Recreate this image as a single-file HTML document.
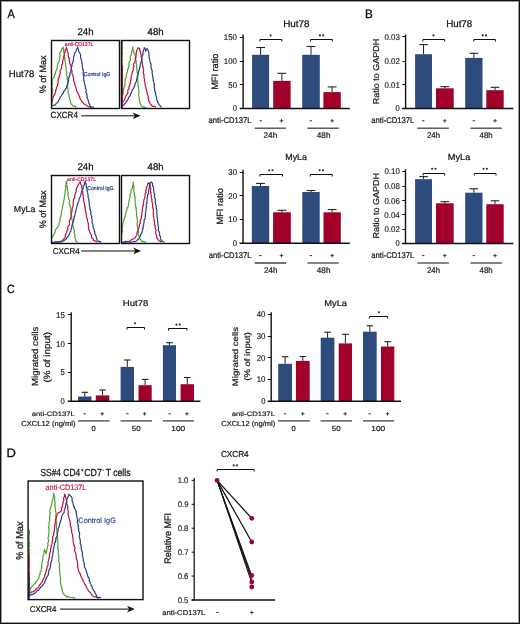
<!DOCTYPE html>
<html><head><meta charset="utf-8"><style>
html,body{margin:0;padding:0;background:#fff;}
svg{display:block;font-family:"Liberation Sans",sans-serif;will-change:transform;text-rendering:geometricPrecision;}
</style></head><body>
<svg width="520" height="624" viewBox="0 0 520 624">
<rect width="520" height="624" fill="#fff"/>
<rect x="0.5" y="0.5" width="519" height="623" fill="none" stroke="#111" stroke-width="1"/>
<rect x="1.5" y="1.5" width="517" height="621" fill="none" stroke="#999" stroke-width="1"/>
<text x="7.53" y="17.55" font-size="12.35" textLength="7.24" lengthAdjust="spacingAndGlyphs" fill="#111" stroke="#111" stroke-width="0.346">A</text>
<text x="364.89" y="17.55" font-size="12.06" textLength="7.77" lengthAdjust="spacingAndGlyphs" fill="#111" stroke="#111" stroke-width="0.338">B</text>
<text x="7.00" y="293.33" font-size="11.86" textLength="7.75" lengthAdjust="spacingAndGlyphs" fill="#111" stroke="#111" stroke-width="0.332">C</text>
<text x="6.48" y="456.85" font-size="12.21" textLength="9.39" lengthAdjust="spacingAndGlyphs" fill="#111" stroke="#111" stroke-width="0.342">D</text>
<path d="M52.20 104.48 L52.04 102.92 L52.34 101.60 L52.23 100.62 L51.80 99.50 L51.78 98.19 L51.81 96.63 L52.13 96.05 L51.86 94.26 L52.31 93.67 L52.27 91.92 L52.63 90.36 L52.52 89.33 L51.88 87.93 L52.03 87.31 L51.91 85.86 L52.33 84.42 L52.24 82.90 L51.80 81.78 L52.36 80.73 L52.20 79.55 L53.01 78.24 L54.16 76.78 L54.57 75.22 L55.34 74.19 L55.54 72.63 L55.66 71.54 L56.26 70.66 L56.79 68.97 L57.36 67.67 L57.20 67.09 L57.62 65.70 L57.77 64.31 L58.13 63.08 L59.00 61.55 L59.41 60.40 L59.69 58.95 L59.70 57.99 L59.77 56.66 L60.17 55.89 L60.02 54.42 L59.82 53.24 L60.39 51.85 L61.21 50.91 L61.77 49.08 L62.76 47.85 L63.16 47.00 L63.40 48.89 L63.85 50.47 L63.65 51.82 L64.01 52.89 L64.54 54.62 L64.28 56.25 L64.49 57.16 L64.86 59.11 L64.72 60.11 L65.24 61.55 L65.43 63.12 L65.83 64.34 L65.50 65.16 L65.72 66.82 L66.42 67.39 L65.87 68.69 L66.07 70.15 L66.55 71.18 L66.62 72.63 L66.31 73.94 L66.78 75.46 L67.44 76.95 L67.19 78.27 L67.31 79.55 L67.56 80.36 L67.85 82.23 L67.91 83.46 L67.56 84.31 L67.39 85.73 L67.44 86.43 L67.66 87.73 L68.01 89.25 L68.06 90.03 L67.95 91.31 L68.24 92.69 L68.37 94.33 L69.10 94.87 L68.97 96.23 L69.39 97.56 L69.61 98.60 L70.40 100.77 L70.40 101.70 L70.78 103.10 L71.44 104.12 L72.85 105.87 L73.87 106.12 L75.46 106.49 L76.32 107.25" fill="none" stroke="#52a030" stroke-width="1.2" stroke-linejoin="round"/>
<path d="M52.20 101.71 L52.09 100.73 L52.86 98.62 L53.19 97.13 L53.46 96.17 L54.18 95.22 L55.17 93.58 L55.54 92.02 L55.62 90.71 L55.83 89.89 L56.46 88.71 L56.57 87.02 L57.30 86.52 L57.64 85.17 L57.62 83.71 L58.16 82.71 L57.89 81.30 L58.27 79.65 L58.23 78.66 L58.70 77.82 L59.59 76.39 L59.83 75.66 L59.70 74.01 L60.40 72.70 L60.04 71.39 L60.31 70.18 L60.99 69.62 L61.49 68.06 L61.61 67.16 L61.77 65.70 L61.66 64.63 L62.66 63.53 L62.78 62.05 L62.52 61.11 L62.92 59.91 L63.76 58.34 L63.50 57.62 L63.85 56.01 L64.40 54.32 L64.21 52.92 L65.25 52.13 L65.24 50.47 L65.29 49.61 L66.41 48.30 L66.34 47.00 L66.69 48.78 L67.31 50.47 L67.26 51.41 L68.29 53.37 L68.17 55.01 L68.36 56.34 L68.70 57.39 L69.29 58.32 L69.07 59.58 L69.35 61.03 L69.67 62.07 L69.85 63.70 L70.35 64.48 L70.78 65.70 L71.11 67.28 L71.22 68.50 L71.56 69.37 L71.84 70.12 L72.02 71.48 L71.89 73.24 L72.30 74.16 L72.85 75.40 L73.32 76.66 L73.22 77.84 L73.68 79.29 L73.54 80.30 L73.93 81.25 L74.66 82.67 L74.73 84.11 L74.93 85.09 L75.70 86.23 L75.82 87.47 L76.13 88.83 L76.47 89.87 L76.89 91.42 L77.48 92.55 L77.70 93.40 L78.65 94.29 L78.86 96.02 L79.67 96.40 L79.58 97.78 L80.47 98.94 L80.92 99.82 L81.75 101.31 L83.22 102.62 L83.48 103.57 L84.63 104.48 L86.16 104.85 L87.74 106.29 L88.78 106.56 L89.91 107.31 L91.55 107.25" fill="none" stroke="#c0103c" stroke-width="1.2" stroke-linejoin="round"/>
<path d="M52.20 105.87 L53.22 105.39 L54.87 105.24 L55.54 104.48 L56.16 103.50 L57.40 102.49 L58.31 101.71 L58.59 100.44 L59.62 99.06 L60.02 98.33 L60.09 97.13 L61.08 96.17 L61.88 94.97 L62.07 94.18 L63.42 92.96 L63.85 91.32 L65.24 89.94 L65.57 88.69 L66.62 87.86 L66.50 86.93 L67.01 85.15 L67.44 84.67 L68.09 82.90 L67.79 82.30 L68.46 80.92 L68.70 79.55 L68.63 77.97 L69.46 77.11 L69.20 76.38 L70.01 75.07 L69.81 73.94 L70.09 72.75 L70.78 71.24 L71.03 69.91 L71.42 69.25 L71.46 67.35 L71.99 66.26 L71.91 65.00 L72.15 63.85 L72.85 62.93 L72.88 61.57 L73.48 60.37 L73.45 59.08 L73.51 57.75 L73.62 56.56 L74.25 55.85 L74.24 54.62 L74.48 53.39 L75.67 51.84 L76.08 50.92 L76.32 49.77 L77.00 48.69 L77.70 47.00 L77.95 48.22 L78.56 49.86 L78.60 50.94 L79.09 51.85 L79.96 53.36 L80.47 54.62 L80.66 55.87 L80.62 57.06 L80.92 58.99 L81.36 59.86 L81.86 61.55 L81.66 63.06 L82.54 64.12 L82.18 64.95 L82.36 66.36 L82.41 67.56 L82.68 69.23 L83.49 70.07 L83.24 71.24 L83.15 72.91 L83.35 73.60 L83.21 74.87 L83.77 76.23 L83.66 77.48 L83.63 78.51 L83.84 79.88 L83.94 80.78 L84.31 82.22 L84.63 83.71 L84.93 84.96 L85.31 86.31 L85.51 87.74 L85.45 88.47 L86.22 89.55 L86.21 91.22 L85.83 92.63 L86.83 93.67 L86.70 94.79 L87.21 96.25 L86.97 97.18 L87.60 98.65 L88.16 99.83 L88.26 101.08 L88.65 102.08 L88.78 103.10 L89.23 103.83 L89.84 105.28 L90.86 106.56 L92.23 107.21 L94.32 107.25" fill="none" stroke="#24408a" stroke-width="1.2" stroke-linejoin="round"/>
<rect x="51.5" y="40.5" width="68.00" height="68.00" fill="none" stroke="#111" stroke-width="1.4"/>
<path d="M122.20 40.77 L122.25 42.09 L122.31 43.35 L122.19 43.95 L122.47 45.83 L122.20 46.85 L122.34 47.63 L122.41 49.01 L121.82 50.23 L122.41 51.38 L122.42 53.29 L122.19 53.96 L122.18 55.44 L122.44 56.59 L122.33 57.31 L121.88 58.68 L122.42 59.93 L122.26 60.88 L121.80 62.32 L122.35 63.91 L122.36 64.76 L122.21 66.12 L122.17 67.02 L122.55 68.30 L122.63 70.17 L121.77 70.95 L122.49 72.62 L122.15 73.20 L121.94 75.02 L121.94 75.90 L121.88 77.05 L122.61 77.91 L122.49 79.46 L122.55 80.84 L121.96 82.23 L122.19 82.65 L121.75 84.28 L122.16 85.32 L121.88 86.56 L122.03 88.22 L121.75 89.35 L122.51 89.99 L122.58 91.73 L122.56 92.56 L122.08 93.86 L122.65 95.24 L122.07 96.31 L122.00 97.18 L121.84 99.09 L122.01 100.39 L121.97 101.00 L122.21 102.14 L122.09 104.04 L122.55 105.12 L122.32 106.42 L122.20 107.25 L122.60 106.08 L122.40 104.42 L122.41 103.57 L122.43 102.53 L122.01 100.79 L122.58 99.65 L122.17 98.63 L122.20 97.56 L122.27 96.39 L123.13 94.57 L123.10 93.22 L123.26 91.92 L123.46 90.63 L123.44 88.94 L123.75 88.23 L124.29 86.22 L124.94 85.54 L124.85 83.71 L125.00 82.19 L124.97 80.96 L125.30 79.78 L125.40 78.74 L125.90 78.12 L126.26 76.50 L126.23 75.40 L126.62 74.03 L127.05 72.48 L127.62 71.24 L127.50 69.66 L128.59 68.13 L128.45 67.20 L129.05 65.45 L129.00 64.32 L129.07 62.70 L129.47 61.50 L130.24 60.47 L130.45 58.35 L130.39 57.39 L130.31 56.19 L131.44 54.60 L131.51 52.79 L131.77 51.85 L131.92 51.02 L132.55 49.75 L132.93 47.99 L132.74 47.00 L132.61 47.94 L133.21 49.66 L133.80 50.94 L133.76 52.23 L133.85 53.24 L135.24 54.62 L135.54 56.05 L135.93 57.39 L135.63 59.03 L135.92 60.54 L136.41 61.37 L136.05 62.71 L136.63 64.49 L136.62 65.70 L136.37 66.57 L136.84 68.29 L136.82 69.23 L137.11 70.30 L136.95 71.96 L137.64 73.39 L137.67 74.49 L137.19 75.55 L137.94 77.22 L137.45 77.86 L137.73 79.55 L137.82 80.97 L137.83 81.85 L138.14 83.71 L137.84 84.17 L138.02 85.78 L138.42 86.83 L138.61 88.58 L138.44 89.36 L138.94 90.71 L138.90 91.90 L138.70 93.40 L138.62 94.85 L138.86 96.23 L139.21 96.76 L139.14 98.17 L139.71 99.87 L139.42 100.58 L139.65 102.31 L140.08 103.10 L140.45 103.85 L141.07 105.31 L142.16 106.56 L143.90 107.14 L145.14 107.47 L146.32 107.25" fill="none" stroke="#52a030" stroke-width="1.2" stroke-linejoin="round"/>
<path d="M122.20 65.70 L122.59 66.77 L121.92 68.54 L122.42 68.95 L122.35 70.48 L122.09 71.66 L121.90 72.59 L122.00 74.12 L122.61 75.14 L122.62 76.44 L122.07 78.21 L122.49 79.08 L121.79 80.34 L122.09 81.97 L121.92 82.69 L122.56 83.61 L122.12 85.54 L122.44 86.06 L121.78 87.30 L122.58 88.70 L122.42 90.50 L122.06 91.16 L122.61 92.69 L121.99 94.00 L122.03 94.83 L121.75 96.48 L122.57 97.60 L122.60 98.27 L121.96 99.90 L122.61 101.55 L122.10 102.14 L122.14 103.58 L122.59 104.52 L122.47 106.24 L122.20 107.25 L122.49 106.11 L122.30 104.33 L122.20 103.10 L123.02 101.59 L124.16 100.33 L124.96 98.84 L124.99 98.34 L125.59 96.61 L125.95 95.94 L126.93 94.79 L127.11 94.06 L127.96 92.92 L127.75 90.95 L127.95 90.17 L128.85 88.97 L129.00 87.86 L129.02 86.57 L129.63 85.59 L130.01 84.54 L130.19 82.67 L130.61 81.62 L130.62 80.48 L131.03 79.11 L131.08 78.17 L131.11 76.73 L131.29 76.09 L131.93 74.37 L132.03 73.76 L132.39 71.86 L132.92 71.03 L133.34 69.32 L133.16 68.47 L133.39 67.55 L133.98 66.42 L133.52 64.65 L133.85 63.34 L134.88 62.49 L135.10 61.08 L135.31 59.94 L135.24 58.78 L135.30 57.64 L136.19 55.65 L136.15 54.73 L136.09 53.12 L136.62 51.85 L136.76 50.20 L137.32 49.17 L138.01 47.70 L139.39 48.39 L139.87 49.33 L139.64 50.66 L140.59 51.74 L140.78 53.24 L140.80 54.16 L141.44 55.65 L140.98 56.44 L141.47 58.03 L141.89 58.80 L141.66 60.53 L142.16 61.55 L142.25 62.56 L142.33 64.38 L142.51 65.24 L142.72 66.32 L143.35 68.05 L143.08 68.54 L143.58 69.76 L143.55 71.24 L143.25 72.83 L143.78 73.99 L143.92 75.28 L144.13 75.86 L143.88 77.44 L144.60 79.00 L144.25 79.97 L144.66 81.09 L144.93 82.32 L144.84 83.36 L145.41 85.17 L145.27 86.01 L146.13 87.67 L145.81 88.14 L146.71 90.14 L146.53 90.54 L147.16 92.07 L147.01 93.40 L147.67 94.70 L147.89 95.47 L148.16 96.71 L148.11 98.46 L148.79 99.05 L148.54 100.43 L149.09 101.71 L149.79 102.65 L150.13 103.56 L151.37 105.19 L151.86 105.87 L152.83 106.38 L154.86 106.37 L156.01 107.25" fill="none" stroke="#c0103c" stroke-width="1.2" stroke-linejoin="round"/>
<path d="M122.20 106.56 L123.34 105.35 L123.96 104.87 L124.82 103.79 L125.54 103.10 L126.16 102.13 L126.86 101.16 L127.57 99.93 L128.31 98.94 L128.44 97.94 L129.41 96.49 L130.21 95.87 L130.49 94.22 L131.08 93.40 L131.61 91.94 L131.85 91.12 L132.37 90.03 L133.31 88.56 L133.85 87.86 L134.37 86.30 L134.85 85.74 L135.05 83.90 L135.44 83.00 L136.23 81.60 L136.55 81.18 L136.62 79.55 L137.14 78.60 L136.96 77.52 L137.54 76.27 L138.23 74.33 L138.42 73.78 L138.08 72.03 L139.01 70.63 L139.44 69.50 L139.39 68.47 L140.02 67.00 L140.09 66.54 L140.17 64.79 L140.78 63.69 L140.71 62.41 L141.47 61.55 L141.36 60.75 L142.03 59.53 L141.76 58.24 L141.91 56.82 L142.58 55.48 L142.99 54.47 L142.85 53.24 L143.27 52.19 L143.19 50.91 L144.01 48.99 L144.24 47.70 L144.97 48.64 L145.60 50.07 L145.62 51.16 L146.19 50.01 L147.01 48.39 L147.42 49.25 L148.15 50.29 L148.39 51.85 L148.88 52.82 L148.91 54.66 L149.06 55.56 L149.02 56.15 L148.96 57.47 L149.68 58.91 L149.78 60.16 L150.14 61.90 L150.14 62.69 L150.95 63.89 L151.16 65.70 L150.91 66.76 L151.20 67.95 L151.51 69.34 L152.04 70.18 L152.26 71.61 L152.02 73.22 L152.55 74.01 L152.49 74.91 L152.53 76.56 L153.40 77.90 L153.15 78.65 L152.97 80.20 L153.64 81.15 L153.89 82.44 L153.93 83.71 L154.53 85.16 L154.12 86.56 L154.15 87.47 L154.68 88.46 L154.57 90.19 L154.74 91.23 L155.78 92.11 L155.33 93.78 L155.81 95.05 L156.01 96.17 L156.69 97.07 L156.63 98.37 L156.79 100.08 L157.85 101.11 L157.55 102.42 L158.61 103.26 L158.78 104.48 L159.92 105.36 L160.38 105.97 L161.55 107.25" fill="none" stroke="#24408a" stroke-width="1.2" stroke-linejoin="round"/>
<rect x="121.5" y="40.5" width="68.00" height="68.00" fill="none" stroke="#111" stroke-width="1.4"/>
<path d="M52.20 238.10 L52.61 236.30 L53.36 235.55 L54.16 233.94 L54.79 232.87 L55.27 230.96 L55.54 229.79 L56.63 228.34 L57.62 227.02 L58.57 225.65 L59.00 224.25 L59.07 222.99 L59.98 221.22 L60.18 219.66 L59.90 218.47 L60.39 217.32 L60.88 216.34 L61.16 214.40 L61.56 213.01 L61.26 212.15 L61.77 210.40 L62.17 209.18 L62.48 208.06 L62.58 206.55 L63.06 205.18 L63.16 203.47 L63.45 202.29 L63.91 200.53 L63.94 199.43 L64.54 197.93 L64.39 196.92 L64.68 194.73 L65.24 193.78 L64.99 192.92 L65.32 190.96 L65.14 189.62 L65.85 188.91 L65.97 187.76 L65.51 186.38 L65.89 185.34 L66.41 184.16 L65.84 182.89 L66.34 181.31 L66.91 183.10 L66.38 183.82 L66.58 185.05 L67.43 187.13 L67.31 188.24 L67.61 189.74 L67.78 190.47 L67.47 191.51 L68.24 192.82 L68.02 194.23 L67.92 195.29 L68.33 196.91 L68.70 197.93 L68.78 198.96 L69.51 200.31 L69.61 201.60 L69.07 202.60 L69.63 204.11 L69.75 205.24 L70.08 206.24 L70.32 207.17 L70.80 208.25 L70.96 209.51 L70.43 210.72 L71.31 212.61 L70.82 213.36 L71.47 214.55 L71.63 216.03 L71.53 216.97 L71.85 218.49 L71.95 219.80 L72.14 220.35 L72.69 221.82 L72.33 223.16 L72.85 224.25 L72.67 225.69 L73.43 226.88 L73.56 227.68 L73.56 228.90 L74.19 229.81 L74.39 230.94 L74.24 232.56 L74.17 233.53 L75.00 234.93 L74.72 236.46 L74.79 237.27 L75.26 238.72 L75.65 239.81 L75.62 240.87 L76.53 241.40 L77.70 242.25" fill="none" stroke="#52a030" stroke-width="1.2" stroke-linejoin="round"/>
<path d="M52.20 242.25 L53.11 242.51 L54.79 242.36 L55.57 242.03 L57.33 242.10 L58.31 241.98 L59.36 241.57 L61.43 241.00 L62.47 240.87 L63.23 239.30 L64.54 238.10 L65.25 237.02 L65.27 235.02 L65.87 233.79 L66.62 232.56 L66.99 231.10 L67.16 229.97 L68.09 229.30 L67.65 228.36 L67.99 226.68 L68.70 225.63 L69.43 224.71 L69.50 223.20 L69.32 222.19 L69.53 220.62 L70.08 219.28 L70.39 218.77 L70.78 217.32 L71.15 216.13 L71.29 214.91 L71.05 213.85 L71.48 212.79 L72.13 211.32 L72.03 210.42 L72.16 209.01 L72.29 207.58 L72.76 206.98 L73.00 205.63 L73.27 204.42 L73.28 203.03 L73.18 202.00 L73.55 200.70 L73.53 199.24 L74.49 198.12 L74.70 196.32 L74.93 195.16 L75.21 193.74 L75.73 192.31 L76.13 191.39 L76.32 189.62 L76.49 188.37 L77.49 186.75 L77.70 185.47 L78.38 184.85 L79.09 183.39 L80.47 182.00 L80.40 183.25 L80.86 184.68 L81.91 185.66 L81.86 186.85 L81.69 188.10 L82.29 189.42 L82.46 190.54 L82.94 191.62 L82.76 193.19 L82.78 194.14 L83.24 195.16 L83.32 196.61 L83.25 198.02 L83.63 198.40 L83.73 199.92 L83.67 201.15 L84.21 202.61 L84.32 203.43 L84.63 204.86 L84.58 206.26 L85.42 207.25 L84.97 208.69 L85.32 209.35 L85.28 211.04 L86.09 212.10 L86.01 213.17 L86.26 214.61 L86.32 216.35 L86.71 217.45 L87.41 218.99 L87.40 220.09 L87.57 221.09 L87.84 222.13 L88.29 223.52 L88.50 224.63 L88.27 225.81 L88.52 226.93 L88.78 228.40 L88.73 229.79 L89.38 230.55 L89.79 231.94 L90.30 233.27 L90.90 234.21 L91.54 235.84 L91.55 236.71 L91.85 238.05 L93.30 239.05 L93.31 240.13 L94.32 240.87 L95.83 241.12 L97.09 242.25" fill="none" stroke="#c0103c" stroke-width="1.2" stroke-linejoin="round"/>
<path d="M52.20 242.25 L53.03 242.62 L54.88 241.95 L55.65 241.81 L57.03 242.34 L58.40 241.74 L60.18 242.28 L61.08 241.98 L61.82 241.70 L63.26 240.98 L64.35 240.46 L65.24 239.48 L66.42 238.86 L66.81 237.81 L68.01 236.71 L68.59 235.82 L69.06 234.84 L69.72 233.18 L69.98 231.96 L70.78 231.17 L71.07 229.59 L71.34 228.48 L71.66 227.61 L72.00 226.75 L71.82 225.54 L72.53 224.10 L72.85 222.86 L73.30 221.98 L73.33 220.41 L74.16 218.92 L74.16 218.24 L73.91 217.02 L74.80 216.13 L74.93 214.55 L75.07 213.80 L75.53 212.16 L76.18 210.57 L76.31 209.92 L76.27 208.94 L76.59 207.41 L77.01 206.24 L77.38 205.33 L77.44 203.87 L77.98 202.83 L78.69 201.44 L79.03 200.38 L79.09 199.32 L79.61 197.73 L80.13 196.97 L80.78 195.42 L81.16 193.78 L81.47 192.23 L81.91 191.08 L82.55 189.62 L83.13 188.49 L83.06 187.05 L83.93 185.47 L84.74 184.12 L84.45 182.52 L85.32 181.31 L85.12 182.42 L86.18 184.18 L86.19 185.73 L86.29 186.85 L86.93 188.34 L86.95 189.73 L87.30 191.09 L87.40 192.39 L87.76 193.32 L87.94 194.73 L88.23 195.59 L87.90 196.72 L88.63 198.70 L88.72 199.40 L88.78 200.70 L89.27 202.15 L89.23 202.86 L89.20 204.19 L89.41 205.39 L89.90 207.03 L89.57 207.88 L90.17 209.01 L89.95 209.86 L90.84 211.45 L91.14 212.52 L90.52 213.66 L91.24 215.34 L91.79 216.11 L91.55 217.32 L91.75 218.35 L92.24 219.83 L92.07 221.04 L92.21 223.03 L92.94 224.25 L92.87 226.05 L93.12 227.35 L93.43 227.97 L94.24 229.55 L94.32 231.17 L94.88 232.04 L94.61 233.73 L95.55 234.95 L95.91 235.41 L96.17 237.13 L96.40 238.10 L97.06 239.64 L97.56 240.82 L98.48 241.56 L100.06 241.47 L101.25 242.25" fill="none" stroke="#24408a" stroke-width="1.2" stroke-linejoin="round"/>
<rect x="51.5" y="175.5" width="68.00" height="68.00" fill="none" stroke="#111" stroke-width="1.4"/>
<path d="M122.20 233.94 L121.83 232.87 L122.63 231.14 L122.24 230.51 L122.18 229.42 L122.54 227.49 L122.51 226.74 L122.64 225.62 L122.77 224.25 L122.80 223.13 L123.34 221.61 L123.93 220.02 L124.16 218.71 L124.51 217.58 L125.48 216.19 L125.54 214.55 L125.95 212.98 L125.84 212.21 L126.76 210.69 L126.93 209.01 L127.24 207.72 L128.28 206.54 L128.31 204.86 L128.68 203.30 L128.80 202.44 L129.03 200.87 L129.51 199.67 L129.70 197.93 L130.25 196.35 L129.80 194.95 L130.46 193.85 L131.09 192.74 L131.08 191.01 L131.13 189.92 L132.28 188.57 L132.47 186.85 L132.70 185.43 L133.13 184.70 L133.15 183.59 L133.16 182.00 L133.14 182.90 L133.44 184.81 L133.23 186.04 L134.01 186.84 L133.83 188.51 L133.85 189.62 L133.97 190.59 L133.94 192.31 L134.57 193.28 L134.09 194.82 L134.86 195.54 L134.85 197.36 L135.27 198.26 L135.06 199.55 L135.24 200.70 L135.08 201.68 L135.20 203.40 L135.49 204.54 L135.65 205.75 L135.55 206.59 L136.44 208.14 L135.76 209.63 L136.50 210.46 L136.46 211.89 L136.51 212.86 L136.62 214.55 L136.30 216.25 L137.15 217.06 L136.98 218.11 L137.27 219.52 L137.53 221.09 L137.51 222.52 L137.10 222.95 L137.16 224.34 L137.15 225.48 L137.68 227.48 L137.73 228.40 L137.90 230.02 L138.51 230.43 L138.44 231.95 L138.22 233.66 L138.55 234.52 L139.10 236.08 L139.34 236.79 L139.39 238.10 L140.27 238.94 L141.66 240.85 L142.16 241.56 L143.30 241.38 L144.71 241.89 L146.32 242.25" fill="none" stroke="#52a030" stroke-width="1.2" stroke-linejoin="round"/>
<path d="M122.20 242.25 L124.14 242.39 L125.65 241.38 L126.93 241.56 L128.57 241.29 L129.83 241.07 L131.08 240.17 L132.07 239.16 L133.85 238.79 L135.00 238.03 L135.86 236.30 L136.62 235.33 L137.05 234.40 L136.96 232.86 L137.44 231.53 L137.99 230.41 L138.12 229.23 L138.70 228.40 L139.15 226.78 L139.49 225.75 L139.17 225.23 L139.63 224.04 L140.51 222.82 L140.15 221.23 L140.78 220.09 L140.61 219.29 L141.48 217.83 L141.33 216.39 L141.86 215.32 L141.88 213.83 L141.71 212.57 L142.16 211.78 L142.55 210.64 L142.24 209.74 L142.54 208.14 L142.64 206.83 L143.46 205.70 L143.05 204.65 L143.55 203.47 L143.66 202.45 L143.75 201.13 L143.98 199.67 L144.81 197.67 L144.93 196.55 L145.11 195.17 L145.11 193.90 L145.40 193.43 L146.17 192.18 L145.56 190.42 L146.47 189.02 L146.32 188.24 L146.87 186.84 L147.44 185.38 L147.63 184.46 L147.70 183.39 L149.09 182.70 L149.13 183.40 L150.12 185.03 L150.19 186.16 L150.05 187.39 L150.84 188.48 L150.67 189.69 L150.46 191.55 L151.08 192.32 L150.65 193.50 L151.16 195.16 L151.42 196.39 L151.27 197.36 L151.73 199.04 L152.06 200.16 L151.66 200.93 L152.30 202.46 L152.44 203.38 L152.67 204.86 L152.55 206.24 L153.01 207.80 L152.85 208.27 L153.38 209.91 L153.50 210.96 L153.04 212.70 L153.35 213.33 L153.51 214.94 L153.33 216.11 L153.93 217.32 L154.04 218.57 L153.90 219.98 L154.68 221.34 L154.39 222.44 L154.60 223.70 L154.46 225.04 L155.42 225.93 L155.18 227.20 L155.32 228.40 L155.55 229.16 L156.13 230.53 L155.63 231.61 L155.89 233.44 L155.88 233.97 L156.68 235.25 L156.70 236.71 L156.96 238.19 L158.16 239.50 L158.78 240.87 L160.35 241.20 L161.55 242.25" fill="none" stroke="#c0103c" stroke-width="1.2" stroke-linejoin="round"/>
<path d="M122.20 242.25 L123.82 242.41 L124.36 241.84 L126.04 242.15 L127.13 241.77 L128.53 241.75 L129.98 242.37 L130.86 242.08 L132.47 241.98 L134.07 241.30 L135.53 241.63 L136.62 240.87 L137.44 239.87 L138.77 239.04 L139.39 238.10 L139.76 237.34 L140.56 235.64 L140.54 234.49 L141.18 233.91 L141.97 232.70 L142.16 231.17 L142.70 230.27 L142.28 228.76 L143.35 227.93 L142.97 226.25 L143.58 224.99 L143.75 223.51 L143.92 222.69 L144.24 221.48 L143.98 219.94 L145.01 219.30 L145.15 217.96 L145.21 216.97 L145.45 215.00 L145.40 213.99 L145.61 212.79 L145.62 211.78 L145.82 210.93 L146.04 209.09 L146.10 208.03 L146.64 206.67 L146.22 205.76 L146.20 204.48 L147.11 203.18 L146.65 201.90 L147.01 200.70 L147.24 199.20 L147.07 197.99 L147.42 197.06 L147.61 195.72 L147.63 194.81 L148.50 193.68 L148.39 192.39 L148.69 191.26 L148.59 190.04 L149.05 188.62 L149.42 187.28 L149.38 185.81 L149.78 184.77 L150.22 183.40 L151.16 182.00 L152.55 183.39 L152.67 184.73 L152.57 185.79 L153.57 186.96 L153.52 188.46 L153.51 190.17 L153.93 191.01 L153.92 192.46 L153.97 193.04 L154.79 194.59 L154.23 195.75 L154.75 197.28 L154.62 198.03 L155.56 199.70 L155.32 200.70 L155.15 201.80 L155.46 203.35 L155.84 204.76 L156.16 205.70 L156.23 207.15 L156.38 208.16 L156.54 209.61 L156.80 210.34 L156.90 211.47 L156.70 213.17 L157.08 214.49 L156.98 216.08 L157.18 216.83 L157.51 218.49 L157.49 219.29 L157.49 220.61 L157.87 221.71 L157.71 223.19 L157.85 224.22 L158.09 225.63 L158.52 227.16 L158.43 228.01 L158.32 229.09 L158.46 230.55 L159.03 231.32 L159.51 232.74 L159.61 234.42 L159.47 235.33 L160.41 236.45 L160.45 238.47 L160.59 239.07 L161.55 240.87 L162.99 241.56 L164.32 242.25" fill="none" stroke="#24408a" stroke-width="1.2" stroke-linejoin="round"/>
<rect x="121.5" y="175.5" width="68.00" height="68.00" fill="none" stroke="#111" stroke-width="1.4"/>
<text x="77.51" y="34.90" font-size="9.80" textLength="16.11" lengthAdjust="spacingAndGlyphs" fill="#1a1a1a" stroke="#1a1a1a" stroke-width="0.274">24h</text>
<text x="147.58" y="34.81" font-size="9.67" textLength="16.05" lengthAdjust="spacingAndGlyphs" fill="#1a1a1a" stroke="#1a1a1a" stroke-width="0.271">48h</text>
<text x="77.51" y="169.90" font-size="9.80" textLength="16.11" lengthAdjust="spacingAndGlyphs" fill="#1a1a1a" stroke="#1a1a1a" stroke-width="0.274">24h</text>
<text x="147.58" y="169.81" font-size="9.67" textLength="16.05" lengthAdjust="spacingAndGlyphs" fill="#1a1a1a" stroke="#1a1a1a" stroke-width="0.271">48h</text>
<text x="8.82" y="76.81" font-size="9.60" textLength="25.50" lengthAdjust="spacingAndGlyphs" fill="#1a1a1a" stroke="#1a1a1a" stroke-width="0.269">Hut78</text>
<text x="13.88" y="211.59" font-size="8.71" textLength="21.52" lengthAdjust="spacingAndGlyphs" fill="#1a1a1a" stroke="#1a1a1a" stroke-width="0.244">MyLa</text>
<text transform="translate(46.31,93.22) rotate(-90)" font-size="9.27" textLength="37.72" lengthAdjust="spacingAndGlyphs" fill="#1a1a1a" stroke="#1a1a1a" stroke-width="0.260">% of Max</text>
<text transform="translate(46.31,228.22) rotate(-90)" font-size="9.27" textLength="37.72" lengthAdjust="spacingAndGlyphs" fill="#1a1a1a" stroke="#1a1a1a" stroke-width="0.260">% of Max</text>
<text x="50.59" y="118.21" font-size="9.04" textLength="27.35" lengthAdjust="spacingAndGlyphs" fill="#1a1a1a" stroke="#1a1a1a" stroke-width="0.253">CXCR4</text>
<line x1="81.20" y1="115.80" x2="135.50" y2="115.80" stroke="#5a5a5a" stroke-width="1.5"/>
<path d="M140.50 115.80 L132.70 112.50 L134.90 115.80 L132.70 119.10 Z" fill="#111"/>
<text x="52.70" y="253.82" font-size="8.47" textLength="26.94" lengthAdjust="spacingAndGlyphs" fill="#1a1a1a" stroke="#1a1a1a" stroke-width="0.237">CXCR4</text>
<line x1="81.20" y1="250.90" x2="136.00" y2="250.90" stroke="#5a5a5a" stroke-width="1.5"/>
<path d="M141.00 250.90 L133.20 247.60 L135.40 250.90 L133.20 254.20 Z" fill="#111"/>
<text x="64.83" y="45.70" font-size="5.31" textLength="28.48" lengthAdjust="spacingAndGlyphs" fill="#c0103c" stroke="#c0103c" stroke-width="0.186">anti-CD137L</text>
<text x="83.74" y="76.44" font-size="5.58" textLength="26.65" lengthAdjust="spacingAndGlyphs" fill="#24408a" stroke="#24408a" stroke-width="0.195">Control IgG</text>
<text x="67.08" y="181.05" font-size="5.17" textLength="28.99" lengthAdjust="spacingAndGlyphs" fill="#c0103c" stroke="#c0103c" stroke-width="0.181">anti-CD137L</text>
<text x="87.34" y="190.12" font-size="5.69" textLength="26.14" lengthAdjust="spacingAndGlyphs" fill="#24408a" stroke="#24408a" stroke-width="0.199">Control IgG</text>
<line x1="243.10" y1="34.60" x2="243.10" y2="108.50" stroke="#111" stroke-width="1.4"/>
<line x1="239.80" y1="108.50" x2="243.10" y2="108.50" stroke="#111" stroke-width="1.0"/>
<text x="232.77" y="111.37" font-size="8.33" textLength="4.22" lengthAdjust="spacingAndGlyphs" fill="#1a1a1a" stroke="#1a1a1a" stroke-width="0.167">0</text>
<line x1="239.80" y1="84.50" x2="243.10" y2="84.50" stroke="#111" stroke-width="1.0"/>
<text x="228.31" y="87.67" font-size="8.33" textLength="8.70" lengthAdjust="spacingAndGlyphs" fill="#1a1a1a" stroke="#1a1a1a" stroke-width="0.167">50</text>
<line x1="239.80" y1="61.50" x2="243.10" y2="61.50" stroke="#111" stroke-width="1.0"/>
<text x="223.85" y="63.97" font-size="8.33" textLength="13.15" lengthAdjust="spacingAndGlyphs" fill="#1a1a1a" stroke="#1a1a1a" stroke-width="0.167">100</text>
<line x1="239.80" y1="37.50" x2="243.10" y2="37.50" stroke="#111" stroke-width="1.0"/>
<text x="223.85" y="40.27" font-size="8.33" textLength="13.15" lengthAdjust="spacingAndGlyphs" fill="#1a1a1a" stroke="#1a1a1a" stroke-width="0.167">150</text>
<rect x="252.10" y="54.80" width="17.00" height="53.70" fill="#2d4b7c"/>
<line x1="260.60" y1="54.80" x2="260.60" y2="47.50" stroke="#222" stroke-width="1.0"/>
<line x1="256.20" y1="47.50" x2="265.00" y2="47.50" stroke="#222" stroke-width="1.1"/>
<rect x="273.20" y="80.90" width="17.40" height="27.60" fill="#a0002a"/>
<line x1="281.90" y1="80.90" x2="281.90" y2="73.30" stroke="#222" stroke-width="1.0"/>
<line x1="277.50" y1="73.30" x2="286.30" y2="73.30" stroke="#222" stroke-width="1.1"/>
<rect x="302.20" y="54.80" width="17.60" height="53.70" fill="#2d4b7c"/>
<line x1="311.00" y1="54.80" x2="311.00" y2="46.50" stroke="#222" stroke-width="1.0"/>
<line x1="306.60" y1="46.50" x2="315.40" y2="46.50" stroke="#222" stroke-width="1.1"/>
<rect x="323.40" y="92.10" width="17.40" height="16.40" fill="#a0002a"/>
<line x1="332.10" y1="92.10" x2="332.10" y2="86.90" stroke="#222" stroke-width="1.0"/>
<line x1="327.70" y1="86.90" x2="336.50" y2="86.90" stroke="#222" stroke-width="1.1"/>
<line x1="239.80" y1="108.50" x2="349.80" y2="108.50" stroke="#111" stroke-width="1.5"/>
<path d="M259.90 41.50 L259.90 39.50 L281.80 39.50 L281.80 41.50" fill="none" stroke="#111" stroke-width="1.0"/>
<circle cx="270.60" cy="35.40" r="1.05" fill="#2a2a2a"/>
<path d="M310.50 41.50 L310.50 39.50 L332.30 39.50 L332.30 41.50" fill="none" stroke="#111" stroke-width="1.0"/>
<circle cx="319.95" cy="35.40" r="1.05" fill="#2a2a2a"/>
<circle cx="323.25" cy="35.40" r="1.05" fill="#2a2a2a"/>
<text x="283.19" y="26.91" font-size="9.60" textLength="26.34" lengthAdjust="spacingAndGlyphs" fill="#1a1a1a" stroke="#1a1a1a" stroke-width="0.269">Hut78</text>
<text transform="translate(218.31,89.86) rotate(-90)" font-size="9.26" textLength="36.34" lengthAdjust="spacingAndGlyphs" fill="#1a1a1a" stroke="#1a1a1a" stroke-width="0.259">MFI ratio</text>
<text x="208.57" y="123.12" font-size="8.31" textLength="42.98" lengthAdjust="spacingAndGlyphs" fill="#1a1a1a" stroke="#1a1a1a" stroke-width="0.233">anti-CD137L</text>
<line x1="259.60" y1="120.80" x2="262.00" y2="120.80" stroke="#333" stroke-width="1.0"/>
<line x1="279.70" y1="120.80" x2="283.30" y2="120.80" stroke="#333" stroke-width="0.9"/>
<line x1="281.50" y1="119.00" x2="281.50" y2="122.60" stroke="#333" stroke-width="0.9"/>
<line x1="309.60" y1="120.80" x2="312.00" y2="120.80" stroke="#333" stroke-width="1.0"/>
<line x1="330.40" y1="120.80" x2="334.00" y2="120.80" stroke="#333" stroke-width="0.9"/>
<line x1="332.20" y1="119.00" x2="332.20" y2="122.60" stroke="#333" stroke-width="0.9"/>
<line x1="254.60" y1="128.20" x2="285.80" y2="128.20" stroke="#444" stroke-width="1.3"/>
<line x1="307.40" y1="128.20" x2="338.80" y2="128.20" stroke="#444" stroke-width="1.3"/>
<text x="263.48" y="138.40" font-size="8.28" textLength="13.86" lengthAdjust="spacingAndGlyphs" fill="#1a1a1a" stroke="#1a1a1a" stroke-width="0.232">24h</text>
<text x="316.81" y="138.32" font-size="8.17" textLength="13.62" lengthAdjust="spacingAndGlyphs" fill="#1a1a1a" stroke="#1a1a1a" stroke-width="0.229">48h</text>
<line x1="243.00" y1="169.70" x2="243.00" y2="243.20" stroke="#111" stroke-width="1.4"/>
<line x1="239.70" y1="243.50" x2="243.00" y2="243.50" stroke="#111" stroke-width="1.0"/>
<text x="232.77" y="246.07" font-size="8.33" textLength="4.22" lengthAdjust="spacingAndGlyphs" fill="#1a1a1a" stroke="#1a1a1a" stroke-width="0.167">0</text>
<line x1="239.70" y1="219.50" x2="243.00" y2="219.50" stroke="#111" stroke-width="1.0"/>
<text x="228.32" y="222.44" font-size="8.33" textLength="8.69" lengthAdjust="spacingAndGlyphs" fill="#1a1a1a" stroke="#1a1a1a" stroke-width="0.167">10</text>
<line x1="239.70" y1="195.50" x2="243.00" y2="195.50" stroke="#111" stroke-width="1.0"/>
<text x="228.31" y="198.80" font-size="8.33" textLength="8.70" lengthAdjust="spacingAndGlyphs" fill="#1a1a1a" stroke="#1a1a1a" stroke-width="0.167">20</text>
<line x1="239.70" y1="172.50" x2="243.00" y2="172.50" stroke="#111" stroke-width="1.0"/>
<text x="228.31" y="175.17" font-size="8.33" textLength="8.70" lengthAdjust="spacingAndGlyphs" fill="#1a1a1a" stroke="#1a1a1a" stroke-width="0.167">30</text>
<rect x="251.80" y="186.00" width="17.40" height="57.20" fill="#2d4b7c"/>
<line x1="260.50" y1="186.00" x2="260.50" y2="183.40" stroke="#222" stroke-width="1.0"/>
<line x1="256.10" y1="183.40" x2="264.90" y2="183.40" stroke="#222" stroke-width="1.1"/>
<rect x="273.10" y="212.30" width="17.70" height="30.90" fill="#a0002a"/>
<line x1="281.95" y1="212.30" x2="281.95" y2="210.30" stroke="#222" stroke-width="1.0"/>
<line x1="277.55" y1="210.30" x2="286.35" y2="210.30" stroke="#222" stroke-width="1.1"/>
<rect x="302.30" y="192.00" width="17.40" height="51.20" fill="#2d4b7c"/>
<line x1="311.00" y1="192.00" x2="311.00" y2="190.50" stroke="#222" stroke-width="1.0"/>
<line x1="306.60" y1="190.50" x2="315.40" y2="190.50" stroke="#222" stroke-width="1.1"/>
<rect x="323.50" y="212.30" width="17.30" height="30.90" fill="#a0002a"/>
<line x1="332.15" y1="212.30" x2="332.15" y2="209.50" stroke="#222" stroke-width="1.0"/>
<line x1="327.75" y1="209.50" x2="336.55" y2="209.50" stroke="#222" stroke-width="1.1"/>
<line x1="239.70" y1="243.20" x2="349.80" y2="243.20" stroke="#111" stroke-width="1.5"/>
<path d="M259.90 176.50 L259.90 174.50 L282.50 174.50 L282.50 176.50" fill="none" stroke="#111" stroke-width="1.0"/>
<circle cx="269.25" cy="170.30" r="1.05" fill="#2a2a2a"/>
<circle cx="272.55" cy="170.30" r="1.05" fill="#2a2a2a"/>
<path d="M310.30 176.50 L310.30 174.50 L332.30 174.50 L332.30 176.50" fill="none" stroke="#111" stroke-width="1.0"/>
<circle cx="319.65" cy="170.30" r="1.05" fill="#2a2a2a"/>
<circle cx="322.95" cy="170.30" r="1.05" fill="#2a2a2a"/>
<text x="285.27" y="159.97" font-size="8.82" textLength="21.63" lengthAdjust="spacingAndGlyphs" fill="#1a1a1a" stroke="#1a1a1a" stroke-width="0.247">MyLa</text>
<text transform="translate(222.81,224.45) rotate(-90)" font-size="8.99" textLength="36.24" lengthAdjust="spacingAndGlyphs" fill="#1a1a1a" stroke="#1a1a1a" stroke-width="0.252">MFI ratio</text>
<text x="208.78" y="258.32" font-size="8.31" textLength="42.78" lengthAdjust="spacingAndGlyphs" fill="#1a1a1a" stroke="#1a1a1a" stroke-width="0.233">anti-CD137L</text>
<line x1="259.30" y1="255.60" x2="261.70" y2="255.60" stroke="#333" stroke-width="1.0"/>
<line x1="279.70" y1="255.60" x2="283.30" y2="255.60" stroke="#333" stroke-width="0.9"/>
<line x1="281.50" y1="253.80" x2="281.50" y2="257.40" stroke="#333" stroke-width="0.9"/>
<line x1="309.60" y1="255.60" x2="312.00" y2="255.60" stroke="#333" stroke-width="1.0"/>
<line x1="330.40" y1="255.60" x2="334.00" y2="255.60" stroke="#333" stroke-width="0.9"/>
<line x1="332.20" y1="253.80" x2="332.20" y2="257.40" stroke="#333" stroke-width="0.9"/>
<line x1="254.60" y1="263.00" x2="286.20" y2="263.00" stroke="#444" stroke-width="1.3"/>
<line x1="307.40" y1="263.00" x2="338.80" y2="263.00" stroke="#444" stroke-width="1.3"/>
<text x="264.00" y="273.20" font-size="8.28" textLength="13.43" lengthAdjust="spacingAndGlyphs" fill="#1a1a1a" stroke="#1a1a1a" stroke-width="0.232">24h</text>
<text x="316.81" y="273.12" font-size="8.17" textLength="13.62" lengthAdjust="spacingAndGlyphs" fill="#1a1a1a" stroke="#1a1a1a" stroke-width="0.229">48h</text>
<line x1="405.60" y1="34.60" x2="405.60" y2="108.60" stroke="#111" stroke-width="1.4"/>
<line x1="402.30" y1="108.50" x2="405.60" y2="108.50" stroke="#111" stroke-width="1.0"/>
<text x="395.57" y="111.47" font-size="8.33" textLength="4.22" lengthAdjust="spacingAndGlyphs" fill="#1a1a1a" stroke="#1a1a1a" stroke-width="0.167">0</text>
<line x1="402.30" y1="84.50" x2="405.60" y2="84.50" stroke="#111" stroke-width="1.0"/>
<text x="384.50" y="87.67" font-size="8.33" textLength="15.39" lengthAdjust="spacingAndGlyphs" fill="#1a1a1a" stroke="#1a1a1a" stroke-width="0.167">0.01</text>
<line x1="402.30" y1="61.50" x2="405.60" y2="61.50" stroke="#111" stroke-width="1.0"/>
<text x="384.51" y="63.87" font-size="8.33" textLength="15.39" lengthAdjust="spacingAndGlyphs" fill="#1a1a1a" stroke="#1a1a1a" stroke-width="0.167">0.02</text>
<line x1="402.30" y1="36.50" x2="405.60" y2="36.50" stroke="#111" stroke-width="1.0"/>
<text x="384.46" y="39.67" font-size="8.33" textLength="15.39" lengthAdjust="spacingAndGlyphs" fill="#1a1a1a" stroke="#1a1a1a" stroke-width="0.167">0.03</text>
<rect x="415.10" y="54.20" width="16.90" height="54.40" fill="#2d4b7c"/>
<line x1="423.55" y1="54.20" x2="423.55" y2="44.60" stroke="#222" stroke-width="1.0"/>
<line x1="419.25" y1="44.60" x2="427.85" y2="44.60" stroke="#222" stroke-width="1.1"/>
<rect x="436.00" y="88.30" width="17.70" height="20.30" fill="#a0002a"/>
<line x1="444.85" y1="88.30" x2="444.85" y2="86.70" stroke="#222" stroke-width="1.0"/>
<line x1="440.55" y1="86.70" x2="449.15" y2="86.70" stroke="#222" stroke-width="1.1"/>
<rect x="465.20" y="57.90" width="17.30" height="50.70" fill="#2d4b7c"/>
<line x1="473.85" y1="57.90" x2="473.85" y2="53.30" stroke="#222" stroke-width="1.0"/>
<line x1="469.55" y1="53.30" x2="478.15" y2="53.30" stroke="#222" stroke-width="1.1"/>
<rect x="486.30" y="90.20" width="17.40" height="18.40" fill="#a0002a"/>
<line x1="495.00" y1="90.20" x2="495.00" y2="87.30" stroke="#222" stroke-width="1.0"/>
<line x1="490.70" y1="87.30" x2="499.30" y2="87.30" stroke="#222" stroke-width="1.1"/>
<line x1="402.30" y1="108.60" x2="513.30" y2="108.60" stroke="#111" stroke-width="1.5"/>
<path d="M422.90 41.50 L422.90 39.50 L444.60 39.50 L444.60 41.50" fill="none" stroke="#111" stroke-width="1.0"/>
<circle cx="433.50" cy="35.40" r="1.05" fill="#2a2a2a"/>
<path d="M473.80 41.50 L473.80 39.50 L495.40 39.50 L495.40 41.50" fill="none" stroke="#111" stroke-width="1.0"/>
<circle cx="482.75" cy="35.40" r="1.05" fill="#2a2a2a"/>
<circle cx="486.05" cy="35.40" r="1.05" fill="#2a2a2a"/>
<text x="446.20" y="26.90" font-size="9.75" textLength="26.02" lengthAdjust="spacingAndGlyphs" fill="#1a1a1a" stroke="#1a1a1a" stroke-width="0.273">Hut78</text>
<text transform="translate(378.52,104.24) rotate(-90)" font-size="8.58" textLength="65.47" lengthAdjust="spacingAndGlyphs" fill="#1a1a1a" stroke="#1a1a1a" stroke-width="0.240">Ratio to GAPDH</text>
<text x="371.27" y="123.12" font-size="8.31" textLength="43.08" lengthAdjust="spacingAndGlyphs" fill="#1a1a1a" stroke="#1a1a1a" stroke-width="0.233">anti-CD137L</text>
<line x1="422.00" y1="120.80" x2="424.40" y2="120.80" stroke="#333" stroke-width="1.0"/>
<line x1="443.00" y1="120.80" x2="446.60" y2="120.80" stroke="#333" stroke-width="0.9"/>
<line x1="444.80" y1="119.00" x2="444.80" y2="122.60" stroke="#333" stroke-width="0.9"/>
<line x1="472.60" y1="120.80" x2="475.00" y2="120.80" stroke="#333" stroke-width="1.0"/>
<line x1="493.20" y1="120.80" x2="496.80" y2="120.80" stroke="#333" stroke-width="0.9"/>
<line x1="495.00" y1="119.00" x2="495.00" y2="122.60" stroke="#333" stroke-width="0.9"/>
<line x1="417.30" y1="128.20" x2="448.80" y2="128.20" stroke="#444" stroke-width="1.3"/>
<line x1="470.50" y1="128.20" x2="501.80" y2="128.20" stroke="#444" stroke-width="1.3"/>
<text x="427.01" y="138.40" font-size="8.28" textLength="13.00" lengthAdjust="spacingAndGlyphs" fill="#1a1a1a" stroke="#1a1a1a" stroke-width="0.232">24h</text>
<text x="479.62" y="138.32" font-size="8.17" textLength="13.09" lengthAdjust="spacingAndGlyphs" fill="#1a1a1a" stroke="#1a1a1a" stroke-width="0.229">48h</text>
<line x1="405.50" y1="169.20" x2="405.50" y2="243.40" stroke="#111" stroke-width="1.4"/>
<line x1="402.20" y1="243.50" x2="405.50" y2="243.50" stroke="#111" stroke-width="1.0"/>
<text x="395.57" y="246.27" font-size="8.33" textLength="4.22" lengthAdjust="spacingAndGlyphs" fill="#1a1a1a" stroke="#1a1a1a" stroke-width="0.167">0</text>
<line x1="402.20" y1="229.50" x2="405.50" y2="229.50" stroke="#111" stroke-width="1.0"/>
<text x="384.51" y="232.17" font-size="8.33" textLength="15.39" lengthAdjust="spacingAndGlyphs" fill="#1a1a1a" stroke="#1a1a1a" stroke-width="0.167">0.02</text>
<line x1="402.20" y1="214.50" x2="405.50" y2="214.50" stroke="#111" stroke-width="1.0"/>
<text x="384.34" y="217.67" font-size="8.33" textLength="15.39" lengthAdjust="spacingAndGlyphs" fill="#1a1a1a" stroke="#1a1a1a" stroke-width="0.167">0.04</text>
<line x1="402.20" y1="200.50" x2="405.50" y2="200.50" stroke="#111" stroke-width="1.0"/>
<text x="384.46" y="203.57" font-size="8.33" textLength="15.39" lengthAdjust="spacingAndGlyphs" fill="#1a1a1a" stroke="#1a1a1a" stroke-width="0.167">0.06</text>
<line x1="402.20" y1="186.50" x2="405.50" y2="186.50" stroke="#111" stroke-width="1.0"/>
<text x="384.46" y="188.87" font-size="8.33" textLength="15.39" lengthAdjust="spacingAndGlyphs" fill="#1a1a1a" stroke="#1a1a1a" stroke-width="0.167">0.08</text>
<line x1="402.20" y1="171.50" x2="405.50" y2="171.50" stroke="#111" stroke-width="1.0"/>
<text x="384.42" y="174.37" font-size="8.33" textLength="15.39" lengthAdjust="spacingAndGlyphs" fill="#1a1a1a" stroke="#1a1a1a" stroke-width="0.167">0.10</text>
<rect x="415.10" y="179.20" width="16.90" height="64.20" fill="#2d4b7c"/>
<line x1="423.55" y1="179.20" x2="423.55" y2="176.60" stroke="#222" stroke-width="1.0"/>
<line x1="419.25" y1="176.60" x2="427.85" y2="176.60" stroke="#222" stroke-width="1.1"/>
<rect x="436.00" y="203.30" width="17.70" height="40.10" fill="#a0002a"/>
<line x1="444.85" y1="203.30" x2="444.85" y2="201.70" stroke="#222" stroke-width="1.0"/>
<line x1="440.55" y1="201.70" x2="449.15" y2="201.70" stroke="#222" stroke-width="1.1"/>
<rect x="465.20" y="192.70" width="17.30" height="50.70" fill="#2d4b7c"/>
<line x1="473.85" y1="192.70" x2="473.85" y2="188.80" stroke="#222" stroke-width="1.0"/>
<line x1="469.55" y1="188.80" x2="478.15" y2="188.80" stroke="#222" stroke-width="1.1"/>
<rect x="486.30" y="204.20" width="17.40" height="39.20" fill="#a0002a"/>
<line x1="495.00" y1="204.20" x2="495.00" y2="200.80" stroke="#222" stroke-width="1.0"/>
<line x1="490.70" y1="200.80" x2="499.30" y2="200.80" stroke="#222" stroke-width="1.1"/>
<line x1="402.20" y1="243.40" x2="513.30" y2="243.40" stroke="#111" stroke-width="1.5"/>
<path d="M423.20 175.50 L423.20 173.50 L444.60 173.50 L444.60 175.50" fill="none" stroke="#111" stroke-width="1.0"/>
<circle cx="432.15" cy="168.70" r="1.05" fill="#2a2a2a"/>
<circle cx="435.45" cy="168.70" r="1.05" fill="#2a2a2a"/>
<path d="M474.40 175.50 L474.40 173.50 L496.00 173.50 L496.00 175.50" fill="none" stroke="#111" stroke-width="1.0"/>
<circle cx="483.55" cy="168.70" r="1.05" fill="#2a2a2a"/>
<circle cx="486.85" cy="168.70" r="1.05" fill="#2a2a2a"/>
<text x="447.85" y="160.17" font-size="8.82" textLength="22.45" lengthAdjust="spacingAndGlyphs" fill="#1a1a1a" stroke="#1a1a1a" stroke-width="0.247">MyLa</text>
<text transform="translate(378.52,238.54) rotate(-90)" font-size="8.58" textLength="65.47" lengthAdjust="spacingAndGlyphs" fill="#1a1a1a" stroke="#1a1a1a" stroke-width="0.240">Ratio to GAPDH</text>
<text x="371.27" y="258.12" font-size="8.31" textLength="43.08" lengthAdjust="spacingAndGlyphs" fill="#1a1a1a" stroke="#1a1a1a" stroke-width="0.233">anti-CD137L</text>
<line x1="422.00" y1="255.60" x2="424.40" y2="255.60" stroke="#333" stroke-width="1.0"/>
<line x1="443.00" y1="255.60" x2="446.60" y2="255.60" stroke="#333" stroke-width="0.9"/>
<line x1="444.80" y1="253.80" x2="444.80" y2="257.40" stroke="#333" stroke-width="0.9"/>
<line x1="472.60" y1="255.60" x2="475.00" y2="255.60" stroke="#333" stroke-width="1.0"/>
<line x1="493.20" y1="255.60" x2="496.80" y2="255.60" stroke="#333" stroke-width="0.9"/>
<line x1="495.00" y1="253.80" x2="495.00" y2="257.40" stroke="#333" stroke-width="0.9"/>
<line x1="417.30" y1="263.00" x2="448.80" y2="263.00" stroke="#444" stroke-width="1.3"/>
<line x1="470.50" y1="263.00" x2="501.80" y2="263.00" stroke="#444" stroke-width="1.3"/>
<text x="427.01" y="273.20" font-size="8.28" textLength="13.00" lengthAdjust="spacingAndGlyphs" fill="#1a1a1a" stroke="#1a1a1a" stroke-width="0.232">24h</text>
<text x="479.62" y="273.12" font-size="8.17" textLength="13.09" lengthAdjust="spacingAndGlyphs" fill="#1a1a1a" stroke="#1a1a1a" stroke-width="0.229">48h</text>
<line x1="71.20" y1="312.30" x2="71.20" y2="401.30" stroke="#111" stroke-width="1.4"/>
<line x1="67.80" y1="401.50" x2="71.20" y2="401.50" stroke="#111" stroke-width="1.0"/>
<text x="60.57" y="404.17" font-size="8.33" textLength="4.22" lengthAdjust="spacingAndGlyphs" fill="#1a1a1a" stroke="#1a1a1a" stroke-width="0.167">0</text>
<line x1="67.80" y1="372.50" x2="71.20" y2="372.50" stroke="#111" stroke-width="1.0"/>
<text x="60.54" y="375.37" font-size="8.46" textLength="4.29" lengthAdjust="spacingAndGlyphs" fill="#1a1a1a" stroke="#1a1a1a" stroke-width="0.169">5</text>
<line x1="67.80" y1="343.50" x2="71.20" y2="343.50" stroke="#111" stroke-width="1.0"/>
<text x="56.12" y="346.57" font-size="8.33" textLength="8.69" lengthAdjust="spacingAndGlyphs" fill="#1a1a1a" stroke="#1a1a1a" stroke-width="0.167">10</text>
<line x1="67.80" y1="314.50" x2="71.20" y2="314.50" stroke="#111" stroke-width="1.0"/>
<text x="56.01" y="317.57" font-size="8.46" textLength="8.82" lengthAdjust="spacingAndGlyphs" fill="#1a1a1a" stroke="#1a1a1a" stroke-width="0.169">15</text>
<rect x="78.10" y="396.50" width="13.40" height="4.80" fill="#2d4b7c"/>
<line x1="84.80" y1="396.50" x2="84.80" y2="392.30" stroke="#222" stroke-width="1.0"/>
<line x1="81.50" y1="392.30" x2="88.10" y2="392.30" stroke="#222" stroke-width="1.1"/>
<rect x="95.80" y="395.40" width="13.50" height="5.90" fill="#a0002a"/>
<line x1="102.55" y1="395.40" x2="102.55" y2="390.00" stroke="#222" stroke-width="1.0"/>
<line x1="99.25" y1="390.00" x2="105.85" y2="390.00" stroke="#222" stroke-width="1.1"/>
<rect x="120.60" y="366.90" width="13.40" height="34.40" fill="#2d4b7c"/>
<line x1="127.30" y1="366.90" x2="127.30" y2="360.00" stroke="#222" stroke-width="1.0"/>
<line x1="124.00" y1="360.00" x2="130.60" y2="360.00" stroke="#222" stroke-width="1.1"/>
<rect x="138.50" y="385.20" width="13.20" height="16.10" fill="#a0002a"/>
<line x1="145.10" y1="385.20" x2="145.10" y2="379.40" stroke="#222" stroke-width="1.0"/>
<line x1="141.80" y1="379.40" x2="148.40" y2="379.40" stroke="#222" stroke-width="1.1"/>
<rect x="162.90" y="345.20" width="13.10" height="56.10" fill="#2d4b7c"/>
<line x1="169.45" y1="345.20" x2="169.45" y2="342.70" stroke="#222" stroke-width="1.0"/>
<line x1="166.15" y1="342.70" x2="172.75" y2="342.70" stroke="#222" stroke-width="1.1"/>
<rect x="180.60" y="384.20" width="13.40" height="17.10" fill="#a0002a"/>
<line x1="187.30" y1="384.20" x2="187.30" y2="377.50" stroke="#222" stroke-width="1.0"/>
<line x1="184.00" y1="377.50" x2="190.60" y2="377.50" stroke="#222" stroke-width="1.1"/>
<line x1="67.80" y1="401.30" x2="200.40" y2="401.30" stroke="#111" stroke-width="1.5"/>
<path d="M127.00 329.50 L127.00 327.50 L144.50 327.50 L144.50 329.50" fill="none" stroke="#111" stroke-width="1.0"/>
<circle cx="135.00" cy="323.30" r="1.05" fill="#2a2a2a"/>
<path d="M168.50 330.50 L168.50 328.50 L187.00 328.50 L187.00 330.50" fill="none" stroke="#111" stroke-width="1.0"/>
<circle cx="176.45" cy="324.60" r="1.05" fill="#2a2a2a"/>
<circle cx="179.75" cy="324.60" r="1.05" fill="#2a2a2a"/>
<text x="122.81" y="306.02" font-size="8.47" textLength="25.60" lengthAdjust="spacingAndGlyphs" fill="#1a1a1a" stroke="#1a1a1a" stroke-width="0.237">Hut78</text>
<text transform="translate(37.67,385.99) rotate(-90)" font-size="8.80" textLength="59.34" lengthAdjust="spacingAndGlyphs" fill="#1a1a1a" stroke="#1a1a1a" stroke-width="0.246">Migrated cells</text>
<text transform="translate(49.83,382.41) rotate(-90)" font-size="9.01" textLength="50.42" lengthAdjust="spacingAndGlyphs" fill="#1a1a1a" stroke="#1a1a1a" stroke-width="0.252">(% of input)</text>
<text x="31.88" y="416.04" font-size="6.40" textLength="42.78" lengthAdjust="spacingAndGlyphs" fill="#1a1a1a" stroke="#1a1a1a" stroke-width="0.179">anti-CD137L</text>
<text x="21.22" y="425.99" font-size="7.30" textLength="54.25" lengthAdjust="spacingAndGlyphs" fill="#1a1a1a" stroke="#1a1a1a" stroke-width="0.204">CXCL12 (ng/ml)</text>
<line x1="83.50" y1="413.80" x2="85.90" y2="413.80" stroke="#333" stroke-width="1.0"/>
<line x1="100.40" y1="413.80" x2="104.00" y2="413.80" stroke="#333" stroke-width="0.9"/>
<line x1="102.20" y1="412.00" x2="102.20" y2="415.60" stroke="#333" stroke-width="0.9"/>
<line x1="126.10" y1="413.80" x2="128.50" y2="413.80" stroke="#333" stroke-width="1.0"/>
<line x1="142.80" y1="413.80" x2="146.40" y2="413.80" stroke="#333" stroke-width="0.9"/>
<line x1="144.60" y1="412.00" x2="144.60" y2="415.60" stroke="#333" stroke-width="0.9"/>
<line x1="168.40" y1="413.80" x2="170.80" y2="413.80" stroke="#333" stroke-width="1.0"/>
<line x1="185.10" y1="413.80" x2="188.70" y2="413.80" stroke="#333" stroke-width="0.9"/>
<line x1="186.90" y1="412.00" x2="186.90" y2="415.60" stroke="#333" stroke-width="0.9"/>
<line x1="78.10" y1="420.90" x2="109.60" y2="420.90" stroke="#444" stroke-width="1.3"/>
<line x1="120.60" y1="420.90" x2="151.90" y2="420.90" stroke="#444" stroke-width="1.3"/>
<line x1="162.90" y1="420.90" x2="194.00" y2="420.90" stroke="#444" stroke-width="1.3"/>
<text x="91.41" y="431.23" font-size="7.34" textLength="4.19" lengthAdjust="spacingAndGlyphs" fill="#1a1a1a" stroke="#1a1a1a" stroke-width="0.206">0</text>
<text x="131.89" y="431.23" font-size="7.34" textLength="8.72" lengthAdjust="spacingAndGlyphs" fill="#1a1a1a" stroke="#1a1a1a" stroke-width="0.206">50</text>
<text x="171.37" y="431.23" font-size="7.34" textLength="13.86" lengthAdjust="spacingAndGlyphs" fill="#1a1a1a" stroke="#1a1a1a" stroke-width="0.206">100</text>
<line x1="271.20" y1="312.30" x2="271.20" y2="401.30" stroke="#111" stroke-width="1.4"/>
<line x1="267.80" y1="401.50" x2="271.20" y2="401.50" stroke="#111" stroke-width="1.0"/>
<text x="261.17" y="404.17" font-size="8.33" textLength="4.22" lengthAdjust="spacingAndGlyphs" fill="#1a1a1a" stroke="#1a1a1a" stroke-width="0.167">0</text>
<line x1="267.80" y1="379.50" x2="271.20" y2="379.50" stroke="#111" stroke-width="1.0"/>
<text x="256.72" y="382.17" font-size="8.33" textLength="8.69" lengthAdjust="spacingAndGlyphs" fill="#1a1a1a" stroke="#1a1a1a" stroke-width="0.167">10</text>
<line x1="267.80" y1="357.50" x2="271.20" y2="357.50" stroke="#111" stroke-width="1.0"/>
<text x="256.71" y="360.67" font-size="8.33" textLength="8.70" lengthAdjust="spacingAndGlyphs" fill="#1a1a1a" stroke="#1a1a1a" stroke-width="0.167">20</text>
<line x1="267.80" y1="336.50" x2="271.20" y2="336.50" stroke="#111" stroke-width="1.0"/>
<text x="256.71" y="338.97" font-size="8.33" textLength="8.70" lengthAdjust="spacingAndGlyphs" fill="#1a1a1a" stroke="#1a1a1a" stroke-width="0.167">30</text>
<line x1="267.80" y1="314.50" x2="271.20" y2="314.50" stroke="#111" stroke-width="1.0"/>
<text x="256.70" y="317.27" font-size="8.33" textLength="8.70" lengthAdjust="spacingAndGlyphs" fill="#1a1a1a" stroke="#1a1a1a" stroke-width="0.167">40</text>
<rect x="278.20" y="363.80" width="13.80" height="37.50" fill="#2d4b7c"/>
<line x1="285.10" y1="363.80" x2="285.10" y2="356.70" stroke="#222" stroke-width="1.0"/>
<line x1="281.80" y1="356.70" x2="288.40" y2="356.70" stroke="#222" stroke-width="1.1"/>
<rect x="295.90" y="360.90" width="13.80" height="40.40" fill="#a0002a"/>
<line x1="302.80" y1="360.90" x2="302.80" y2="356.50" stroke="#222" stroke-width="1.0"/>
<line x1="299.50" y1="356.50" x2="306.10" y2="356.50" stroke="#222" stroke-width="1.1"/>
<rect x="320.70" y="337.70" width="13.70" height="63.60" fill="#2d4b7c"/>
<line x1="327.55" y1="337.70" x2="327.55" y2="332.20" stroke="#222" stroke-width="1.0"/>
<line x1="324.25" y1="332.20" x2="330.85" y2="332.20" stroke="#222" stroke-width="1.1"/>
<rect x="338.70" y="343.40" width="13.30" height="57.90" fill="#a0002a"/>
<line x1="345.35" y1="343.40" x2="345.35" y2="334.30" stroke="#222" stroke-width="1.0"/>
<line x1="342.05" y1="334.30" x2="348.65" y2="334.30" stroke="#222" stroke-width="1.1"/>
<rect x="363.00" y="331.70" width="13.70" height="69.60" fill="#2d4b7c"/>
<line x1="369.85" y1="331.70" x2="369.85" y2="325.80" stroke="#222" stroke-width="1.0"/>
<line x1="366.55" y1="325.80" x2="373.15" y2="325.80" stroke="#222" stroke-width="1.1"/>
<rect x="381.00" y="346.50" width="13.30" height="54.80" fill="#a0002a"/>
<line x1="387.65" y1="346.50" x2="387.65" y2="341.70" stroke="#222" stroke-width="1.0"/>
<line x1="384.35" y1="341.70" x2="390.95" y2="341.70" stroke="#222" stroke-width="1.1"/>
<line x1="267.80" y1="401.30" x2="401.00" y2="401.30" stroke="#111" stroke-width="1.5"/>
<path d="M369.30 318.50 L369.30 316.50 L387.70 316.50 L387.70 318.50" fill="none" stroke="#111" stroke-width="1.0"/>
<circle cx="378.90" cy="312.30" r="1.05" fill="#2a2a2a"/>
<text x="324.24" y="305.94" font-size="8.49" textLength="22.76" lengthAdjust="spacingAndGlyphs" fill="#1a1a1a" stroke="#1a1a1a" stroke-width="0.238">MyLa</text>
<text transform="translate(237.85,386.19) rotate(-90)" font-size="7.94" textLength="59.13" lengthAdjust="spacingAndGlyphs" fill="#1a1a1a" stroke="#1a1a1a" stroke-width="0.222">Migrated cells</text>
<text transform="translate(250.01,380.69) rotate(-90)" font-size="8.15" textLength="48.58" lengthAdjust="spacingAndGlyphs" fill="#1a1a1a" stroke="#1a1a1a" stroke-width="0.228">(% of input)</text>
<text x="231.67" y="416.04" font-size="6.40" textLength="43.28" lengthAdjust="spacingAndGlyphs" fill="#1a1a1a" stroke="#1a1a1a" stroke-width="0.179">anti-CD137L</text>
<text x="221.22" y="425.99" font-size="7.30" textLength="53.95" lengthAdjust="spacingAndGlyphs" fill="#1a1a1a" stroke="#1a1a1a" stroke-width="0.204">CXCL12 (ng/ml)</text>
<line x1="283.80" y1="413.80" x2="286.20" y2="413.80" stroke="#333" stroke-width="1.0"/>
<line x1="300.90" y1="413.80" x2="304.50" y2="413.80" stroke="#333" stroke-width="0.9"/>
<line x1="302.70" y1="412.00" x2="302.70" y2="415.60" stroke="#333" stroke-width="0.9"/>
<line x1="326.10" y1="413.80" x2="328.50" y2="413.80" stroke="#333" stroke-width="1.0"/>
<line x1="343.40" y1="413.80" x2="347.00" y2="413.80" stroke="#333" stroke-width="0.9"/>
<line x1="345.20" y1="412.00" x2="345.20" y2="415.60" stroke="#333" stroke-width="0.9"/>
<line x1="368.40" y1="413.80" x2="370.80" y2="413.80" stroke="#333" stroke-width="1.0"/>
<line x1="385.70" y1="413.80" x2="389.30" y2="413.80" stroke="#333" stroke-width="0.9"/>
<line x1="387.50" y1="412.00" x2="387.50" y2="415.60" stroke="#333" stroke-width="0.9"/>
<line x1="278.00" y1="420.90" x2="309.80" y2="420.90" stroke="#444" stroke-width="1.3"/>
<line x1="320.60" y1="420.90" x2="352.00" y2="420.90" stroke="#444" stroke-width="1.3"/>
<line x1="363.00" y1="420.90" x2="394.20" y2="420.90" stroke="#444" stroke-width="1.3"/>
<text x="291.61" y="431.23" font-size="7.34" textLength="4.19" lengthAdjust="spacingAndGlyphs" fill="#1a1a1a" stroke="#1a1a1a" stroke-width="0.206">0</text>
<text x="331.89" y="431.23" font-size="7.34" textLength="8.72" lengthAdjust="spacingAndGlyphs" fill="#1a1a1a" stroke="#1a1a1a" stroke-width="0.206">50</text>
<text x="371.37" y="431.23" font-size="7.34" textLength="13.86" lengthAdjust="spacingAndGlyphs" fill="#1a1a1a" stroke="#1a1a1a" stroke-width="0.206">100</text>
<path d="M29.20 529.93 L29.58 531.39 L29.23 532.81 L29.22 533.59 L29.37 534.69 L29.07 536.09 L29.07 537.62 L29.36 538.46 L28.84 539.54 L29.11 540.92 L29.27 542.43 L29.62 543.29 L29.15 544.63 L29.65 545.59 L29.23 547.23 L28.90 548.00 L29.63 549.67 L29.21 550.24 L29.56 551.98 L29.49 553.47 L29.55 554.17 L28.89 555.27 L29.21 556.68 L28.92 557.60 L29.32 559.20 L29.07 560.77 L29.32 561.12 L29.12 563.01 L29.03 564.14 L28.75 565.01 L29.51 566.48 L29.35 567.34 L29.20 568.88 L28.99 570.18 L29.23 571.71 L29.27 572.40 L28.86 573.39 L29.43 574.56 L28.84 575.83 L29.22 577.63 L29.30 578.83 L28.81 579.33 L29.44 580.83 L29.39 582.07 L28.90 583.21 L28.84 585.00 L29.27 585.72 L29.15 586.96 L28.80 588.63 L29.27 589.91 L29.15 590.82 L28.97 591.52 L29.59 593.47 L29.03 594.72 L29.48 595.40 L29.29 597.21 L29.20 598.01 L29.20 597.03 L28.97 595.14 L29.40 593.60 L29.03 592.81 L29.20 591.09 L29.87 590.20 L30.33 588.48 L31.12 587.34 L31.92 586.47 L33.21 585.42 L33.71 584.39 L34.55 583.77 L35.39 583.01 L36.16 581.46 L36.78 580.99 L37.85 579.32 L38.85 578.39 L38.90 577.04 L39.27 575.67 L39.98 574.79 L39.86 573.96 L40.13 572.42 L41.13 571.13 L41.16 570.31 L41.27 569.36 L41.77 567.49 L41.53 566.74 L41.72 565.69 L41.73 564.43 L42.17 562.52 L42.29 561.17 L42.68 560.03 L43.03 559.06 L42.71 557.50 L43.00 556.47 L43.42 554.82 L43.98 553.36 L43.98 552.35 L44.09 551.17 L44.62 549.54 L44.92 550.84 L45.49 551.68 L45.73 552.63 L46.23 554.16 L46.21 553.16 L46.60 551.67 L46.67 550.26 L47.16 548.88 L47.37 547.18 L47.65 546.00 L48.08 544.93 L47.81 543.90 L48.02 542.40 L48.65 541.51 L48.69 540.37 L48.09 538.62 L48.06 537.76 L48.70 536.24 L48.54 535.30 L48.87 533.71 L49.07 532.58 L48.94 531.20 L48.55 530.64 L49.17 529.24 L48.62 527.41 L48.79 526.33 L48.99 525.27 L49.23 524.16 L48.91 522.74 L49.53 521.38 L49.80 520.49 L49.78 518.97 L49.62 518.11 L49.63 516.25 L50.15 515.71 L49.75 513.80 L50.35 513.07 L49.71 511.50 L49.86 510.75 L50.04 509.62 L50.39 508.00 L51.00 506.48 L51.33 505.60 L51.54 504.54 L52.05 503.39 L51.92 501.29 L52.81 500.14 L52.69 498.77 L53.37 497.50 L53.49 496.18 L53.68 494.40 L53.85 493.00 L53.59 494.48 L54.07 495.61 L54.67 496.56 L54.66 497.78 L54.75 499.77 L54.50 500.83 L55.28 502.21 L55.00 503.39 L55.15 504.42 L54.82 505.78 L55.24 506.89 L55.25 508.09 L55.71 509.83 L55.40 510.71 L55.75 512.15 L56.23 513.32 L55.77 515.06 L55.73 516.03 L56.16 517.23 L56.08 518.75 L56.35 519.93 L56.09 521.08 L56.55 522.12 L56.78 523.69 L56.27 524.43 L56.57 525.59 L56.38 526.88 L56.58 528.49 L56.88 529.19 L56.84 530.75 L56.96 531.71 L56.77 532.79 L57.68 534.69 L57.31 535.70 L57.01 537.12 L57.90 538.22 L57.19 539.38 L57.56 540.34 L57.73 541.41 L58.15 543.21 L57.96 544.70 L58.06 545.32 L57.77 546.45 L57.65 548.25 L58.46 549.05 L57.95 550.59 L58.62 552.08 L58.09 553.18 L58.46 554.16 L58.85 555.62 L58.49 556.36 L59.02 557.73 L58.70 559.18 L58.79 560.67 L58.76 561.20 L59.15 562.97 L59.46 564.29 L59.63 565.74 L59.35 566.59 L59.13 567.65 L59.60 568.69 L59.62 570.31 L59.89 571.27 L59.78 573.26 L59.56 573.68 L59.98 575.07 L60.34 576.16 L60.55 578.19 L60.61 579.06 L60.26 580.53 L60.58 581.57 L60.52 582.85 L60.77 584.16 L61.25 585.77 L61.79 586.50 L61.58 588.07 L62.15 589.30 L62.15 590.38 L62.59 592.04 L63.08 593.39 L64.37 594.63 L65.14 595.55 L66.09 596.10 L66.54 596.86 L68.14 596.62 L69.34 597.28 L70.32 597.41 L72.22 597.50 L73.27 597.50 L74.31 598.19 L75.77 598.01" fill="none" stroke="#52a030" stroke-width="1.2" stroke-linejoin="round"/>
<path d="M29.20 554.16 L28.78 555.10 L29.36 556.55 L28.83 557.96 L29.08 559.10 L29.12 560.28 L29.26 561.37 L28.85 562.40 L29.55 563.95 L28.85 565.45 L28.98 565.98 L29.23 567.33 L29.19 568.82 L28.95 570.06 L28.85 571.22 L29.28 572.05 L29.12 573.26 L29.15 575.19 L29.25 576.28 L29.43 576.96 L29.64 578.72 L28.84 580.04 L29.10 580.66 L29.61 582.23 L29.45 583.07 L29.45 584.21 L28.96 585.71 L28.76 587.13 L28.94 588.08 L29.39 589.42 L29.55 590.81 L29.53 591.98 L29.58 593.47 L28.90 594.58 L29.06 595.81 L29.36 597.08 L29.20 598.01 L28.86 596.36 L29.41 595.34 L29.20 593.39 L30.66 592.41 L31.81 591.88 L33.02 591.94 L34.23 591.09 L34.81 590.55 L36.24 589.02 L36.72 588.27 L38.23 587.47 L38.85 586.47 L39.36 584.88 L40.23 584.43 L41.16 583.06 L42.31 581.85 L42.55 580.87 L43.07 579.23 L43.95 578.43 L44.21 577.52 L44.88 575.65 L44.76 574.62 L45.34 574.11 L45.77 572.62 L46.37 570.89 L46.14 570.27 L46.92 568.57 L47.07 567.04 L47.73 565.93 L48.08 564.81 L48.08 563.39 L47.95 561.96 L48.34 561.18 L48.93 559.13 L48.81 558.14 L49.33 557.05 L49.52 555.57 L49.43 554.49 L49.98 552.70 L50.39 551.85 L50.56 551.03 L50.40 549.02 L51.17 547.87 L51.02 546.82 L51.22 545.62 L51.67 544.71 L52.30 542.62 L52.12 542.02 L52.61 540.77 L52.60 539.38 L52.69 538.00 L52.83 536.49 L53.49 535.70 L53.88 534.21 L53.57 532.97 L54.23 531.42 L54.40 529.96 L54.54 528.77 L54.77 527.41 L54.50 526.06 L54.92 525.37 L55.24 523.53 L55.21 522.12 L55.48 520.75 L55.35 520.13 L55.93 518.47 L56.16 517.23 L56.80 515.90 L57.01 514.54 L57.71 513.60 L58.46 512.62 L59.82 512.09 L60.77 511.46 L61.50 510.17 L61.81 509.23 L61.38 507.71 L62.16 507.29 L62.29 505.94 L62.69 504.87 L63.08 503.39 L62.92 502.05 L63.90 500.55 L63.55 499.00 L63.70 497.90 L64.42 496.54 L64.37 495.20 L64.70 494.16 L65.13 495.64 L65.52 496.19 L65.94 498.03 L66.08 498.77 L66.40 499.71 L66.82 501.75 L66.63 502.40 L66.72 504.08 L67.57 505.49 L67.85 506.42 L67.70 508.00 L67.70 509.55 L68.16 510.55 L68.35 511.81 L67.96 513.20 L68.11 514.71 L68.54 515.91 L68.85 517.23 L69.19 518.30 L69.33 519.36 L70.00 521.14 L70.31 521.96 L70.23 523.85 L70.23 524.56 L70.34 525.89 L71.14 527.12 L71.16 528.77 L71.65 529.96 L71.61 531.37 L71.84 532.69 L72.09 533.66 L72.42 534.85 L72.61 536.56 L72.87 537.41 L73.08 539.27 L73.00 539.90 L73.28 541.76 L73.47 542.62 L73.39 543.46 L73.96 545.32 L74.48 546.34 L74.93 547.50 L74.98 548.66 L74.58 549.98 L74.86 551.60 L75.57 552.59 L75.77 554.16 L76.38 555.30 L75.88 556.39 L76.62 558.32 L76.31 558.77 L77.07 560.22 L77.47 561.71 L77.36 562.83 L77.72 564.19 L77.50 565.85 L77.52 566.96 L78.08 568.01 L78.07 569.29 L78.76 570.64 L78.84 571.53 L79.54 573.00 L80.40 573.89 L80.39 574.93 L80.72 575.86 L81.33 577.18 L81.88 578.13 L82.93 579.67 L83.09 581.15 L83.85 581.85 L84.17 583.07 L84.70 584.49 L85.91 585.11 L86.38 586.76 L86.54 587.47 L87.31 588.78 L88.16 590.28 L88.74 591.25 L90.00 592.20 L90.77 593.39 L91.71 594.60 L92.24 595.47 L93.24 596.24 L94.24 596.86 L96.10 596.95 L97.64 598.07 L98.85 598.01" fill="none" stroke="#c0103c" stroke-width="1.2" stroke-linejoin="round"/>
<path d="M29.20 572.62 L29.02 573.40 L28.85 575.47 L28.76 576.62 L28.89 577.67 L28.84 578.37 L29.36 579.51 L29.06 581.46 L29.39 582.64 L29.63 583.08 L28.96 584.97 L29.37 585.50 L29.20 586.89 L29.14 587.98 L28.77 589.99 L29.03 591.10 L28.86 591.95 L28.87 593.11 L28.91 594.55 L28.88 595.81 L29.20 596.45 L29.20 598.01 L29.20 595.70 L30.33 595.12 L32.09 594.41 L32.72 594.39 L34.23 593.39 L35.73 592.74 L36.34 591.37 L37.48 590.41 L38.85 589.93 L39.21 588.98 L40.30 588.06 L41.03 586.61 L42.09 586.22 L42.73 585.17 L43.46 584.16 L44.21 583.44 L44.95 582.05 L45.10 580.54 L45.70 579.97 L46.25 578.29 L46.84 576.92 L47.95 575.64 L48.08 574.93 L48.49 574.06 L48.49 572.51 L48.91 570.92 L49.07 569.55 L49.96 568.89 L50.33 566.97 L50.46 565.96 L50.73 564.90 L50.75 564.03 L50.78 562.56 L51.54 561.08 L52.07 559.83 L52.04 559.01 L51.93 557.42 L52.60 555.94 L52.78 554.69 L52.82 553.63 L53.17 552.11 L53.33 551.05 L53.18 549.86 L53.43 548.86 L53.85 547.24 L54.14 546.18 L54.50 544.70 L54.54 543.14 L55.49 542.23 L55.44 540.97 L56.02 539.45 L55.76 538.71 L56.33 537.29 L56.98 536.26 L57.33 534.24 L57.31 533.39 L57.53 532.37 L58.26 530.41 L57.99 529.21 L58.27 527.98 L59.23 526.81 L59.25 525.11 L59.62 524.16 L59.85 523.45 L60.45 521.80 L60.59 520.96 L61.17 519.23 L61.43 518.27 L61.61 517.00 L61.93 516.08 L62.58 514.78 L63.36 513.34 L64.23 512.62 L64.22 511.40 L64.35 509.76 L65.20 508.57 L65.10 507.26 L65.82 505.84 L65.89 505.25 L65.76 503.57 L66.55 502.47 L66.54 501.08 L66.81 499.51 L67.26 498.65 L67.89 497.43 L68.00 496.60 L68.74 495.18 L68.85 494.16 L69.90 495.38 L71.16 496.46 L71.87 497.50 L72.24 499.29 L72.03 500.57 L72.32 501.35 L73.04 502.95 L73.16 504.37 L73.47 505.69 L74.40 507.08 L74.19 508.09 L75.16 509.12 L75.77 510.31 L76.29 511.49 L76.17 513.18 L76.35 514.08 L76.62 515.64 L76.98 516.82 L76.94 517.45 L77.40 519.17 L77.69 520.62 L77.32 521.39 L77.49 523.18 L78.08 524.16 L77.88 525.02 L78.62 526.68 L78.14 528.01 L78.89 529.07 L78.45 530.48 L78.93 531.62 L79.61 533.06 L79.65 533.69 L79.32 535.25 L79.18 536.91 L79.57 537.48 L79.76 538.71 L80.40 540.21 L80.24 541.32 L80.39 542.62 L80.19 543.70 L81.14 545.41 L81.34 546.18 L80.96 547.25 L81.47 548.80 L81.62 550.16 L81.93 551.31 L82.34 552.42 L82.65 554.00 L82.08 555.04 L82.70 556.47 L82.98 557.67 L83.27 558.87 L83.26 560.58 L83.53 561.79 L84.25 562.96 L84.19 564.55 L84.44 565.78 L84.35 566.67 L85.00 568.01 L85.51 568.75 L86.10 569.93 L86.25 571.18 L86.92 572.68 L87.20 573.77 L87.31 574.93 L87.90 576.24 L87.99 576.98 L88.92 578.07 L89.42 579.28 L89.12 580.34 L90.16 582.26 L90.26 583.15 L90.77 584.16 L91.13 585.68 L92.10 586.16 L92.11 587.80 L92.67 589.08 L93.47 589.69 L94.24 591.09 L94.77 592.08 L95.21 593.08 L95.99 594.39 L96.39 595.39 L96.54 596.86 L98.35 597.67 L99.52 597.20 L101.16 598.01" fill="none" stroke="#24408a" stroke-width="1.2" stroke-linejoin="round"/>
<rect x="28.1" y="481.0" width="114.90" height="118.60" fill="none" stroke="#111" stroke-width="1.4"/>
<text x="40.52" y="475.80" font-size="10.17" textLength="39.63" lengthAdjust="spacingAndGlyphs" fill="#1a1a1a" stroke="#1a1a1a" stroke-width="0.285">SS#4 CD4</text>
<text x="84.25" y="475.80" font-size="10.17" textLength="17.59" lengthAdjust="spacingAndGlyphs" fill="#1a1a1a" stroke="#1a1a1a" stroke-width="0.285">CD7</text>
<text x="105.71" y="475.80" font-size="10.21" textLength="24.80" lengthAdjust="spacingAndGlyphs" fill="#1a1a1a" stroke="#1a1a1a" stroke-width="0.286">T cells</text>
<line x1="80.90" y1="470.00" x2="83.70" y2="470.00" stroke="#222" stroke-width="0.8"/>
<line x1="82.30" y1="468.60" x2="82.30" y2="471.40" stroke="#222" stroke-width="0.8"/>
<line x1="102.30" y1="470.20" x2="103.90" y2="470.20" stroke="#222" stroke-width="0.8"/>
<text x="45.59" y="489.92" font-size="7.90" textLength="40.75" lengthAdjust="spacingAndGlyphs" fill="#c0103c" stroke="#c0103c" stroke-width="0.118">anti-CD137L</text>
<text x="78.33" y="522.70" font-size="7.72" textLength="37.52" lengthAdjust="spacingAndGlyphs" fill="#24408a" stroke="#24408a" stroke-width="0.116">Control IgG</text>
<text transform="translate(23.40,559.83) rotate(-90)" font-size="9.95" textLength="38.33" lengthAdjust="spacingAndGlyphs" fill="#1a1a1a" stroke="#1a1a1a" stroke-width="0.279">% of Max</text>
<text x="29.70" y="611.82" font-size="8.47" textLength="26.73" lengthAdjust="spacingAndGlyphs" fill="#1a1a1a" stroke="#1a1a1a" stroke-width="0.237">CXCR4</text>
<line x1="60.00" y1="609.10" x2="129.80" y2="609.10" stroke="#333" stroke-width="1.2"/>
<path d="M134.80 609.10 L127.00 605.80 L129.20 609.10 L127.00 612.40 Z" fill="#111"/>
<line x1="194.20" y1="477.90" x2="194.20" y2="600.00" stroke="#111" stroke-width="1.25"/>
<line x1="191.60" y1="480.40" x2="194.20" y2="480.40" stroke="#111" stroke-width="1.0"/>
<text x="177.66" y="483.22" font-size="8.19" textLength="10.74" lengthAdjust="spacingAndGlyphs" fill="#1a1a1a" stroke="#1a1a1a" stroke-width="0.164">1.0</text>
<line x1="191.60" y1="504.32" x2="194.20" y2="504.32" stroke="#111" stroke-width="1.0"/>
<text x="177.72" y="507.14" font-size="8.19" textLength="10.74" lengthAdjust="spacingAndGlyphs" fill="#1a1a1a" stroke="#1a1a1a" stroke-width="0.164">0.9</text>
<line x1="191.60" y1="528.24" x2="194.20" y2="528.24" stroke="#111" stroke-width="1.0"/>
<text x="177.69" y="531.06" font-size="8.19" textLength="10.74" lengthAdjust="spacingAndGlyphs" fill="#1a1a1a" stroke="#1a1a1a" stroke-width="0.164">0.8</text>
<line x1="191.60" y1="552.16" x2="194.20" y2="552.16" stroke="#111" stroke-width="1.0"/>
<text x="177.75" y="554.98" font-size="8.19" textLength="10.74" lengthAdjust="spacingAndGlyphs" fill="#1a1a1a" stroke="#1a1a1a" stroke-width="0.164">0.7</text>
<line x1="191.60" y1="576.08" x2="194.20" y2="576.08" stroke="#111" stroke-width="1.0"/>
<text x="177.70" y="578.90" font-size="8.19" textLength="10.74" lengthAdjust="spacingAndGlyphs" fill="#1a1a1a" stroke="#1a1a1a" stroke-width="0.164">0.6</text>
<line x1="191.60" y1="600.00" x2="194.20" y2="600.00" stroke="#111" stroke-width="1.0"/>
<text x="177.68" y="602.82" font-size="8.19" textLength="10.74" lengthAdjust="spacingAndGlyphs" fill="#1a1a1a" stroke="#1a1a1a" stroke-width="0.164">0.5</text>
<line x1="191.60" y1="600.00" x2="275.00" y2="600.00" stroke="#111" stroke-width="1.5"/>
<line x1="217.10" y1="480.40" x2="251.75" y2="518.30" stroke="#111" stroke-width="1.25"/>
<line x1="217.10" y1="480.40" x2="251.75" y2="542.00" stroke="#111" stroke-width="1.25"/>
<line x1="217.10" y1="480.40" x2="251.75" y2="575.50" stroke="#111" stroke-width="1.0"/>
<line x1="217.10" y1="480.40" x2="251.75" y2="577.50" stroke="#111" stroke-width="1.0"/>
<line x1="217.10" y1="480.40" x2="251.75" y2="580.00" stroke="#111" stroke-width="1.0"/>
<line x1="217.10" y1="480.40" x2="251.75" y2="583.00" stroke="#111" stroke-width="1.0"/>
<circle cx="251.75" cy="518.3" r="2.4" fill="#a0002a"/>
<circle cx="251.75" cy="542.0" r="2.4" fill="#a0002a"/>
<circle cx="251.75" cy="575.5" r="2.4" fill="#a0002a"/>
<circle cx="251.75" cy="582.0" r="2.4" fill="#a0002a"/>
<circle cx="251.75" cy="587.0" r="2.4" fill="#a0002a"/>
<circle cx="217.1" cy="480.4" r="2.4" fill="#a0002a"/>
<path d="M217.10 471.50 L217.10 469.50 L254.20 469.50 L254.20 471.50" fill="none" stroke="#111" stroke-width="1.0"/>
<circle cx="233.75" cy="465.40" r="1.05" fill="#2a2a2a"/>
<circle cx="237.05" cy="465.40" r="1.05" fill="#2a2a2a"/>
<text x="220.88" y="457.12" font-size="8.62" textLength="27.76" lengthAdjust="spacingAndGlyphs" fill="#1a1a1a" stroke="#1a1a1a" stroke-width="0.241">CXCR4</text>
<text transform="translate(171.31,563.85) rotate(-90)" font-size="9.53" textLength="50.98" lengthAdjust="spacingAndGlyphs" fill="#1a1a1a" stroke="#1a1a1a" stroke-width="0.267">Relative MFI</text>
<text x="162.28" y="615.13" font-size="7.22" textLength="42.88" lengthAdjust="spacingAndGlyphs" fill="#1a1a1a" stroke="#1a1a1a" stroke-width="0.202">anti-CD137L</text>
<line x1="216.30" y1="612.50" x2="218.70" y2="612.50" stroke="#333" stroke-width="1.0"/>
<line x1="249.95" y1="612.50" x2="253.55" y2="612.50" stroke="#333" stroke-width="0.9"/>
<line x1="251.75" y1="610.70" x2="251.75" y2="614.30" stroke="#333" stroke-width="0.9"/>
</svg>
</body></html>
